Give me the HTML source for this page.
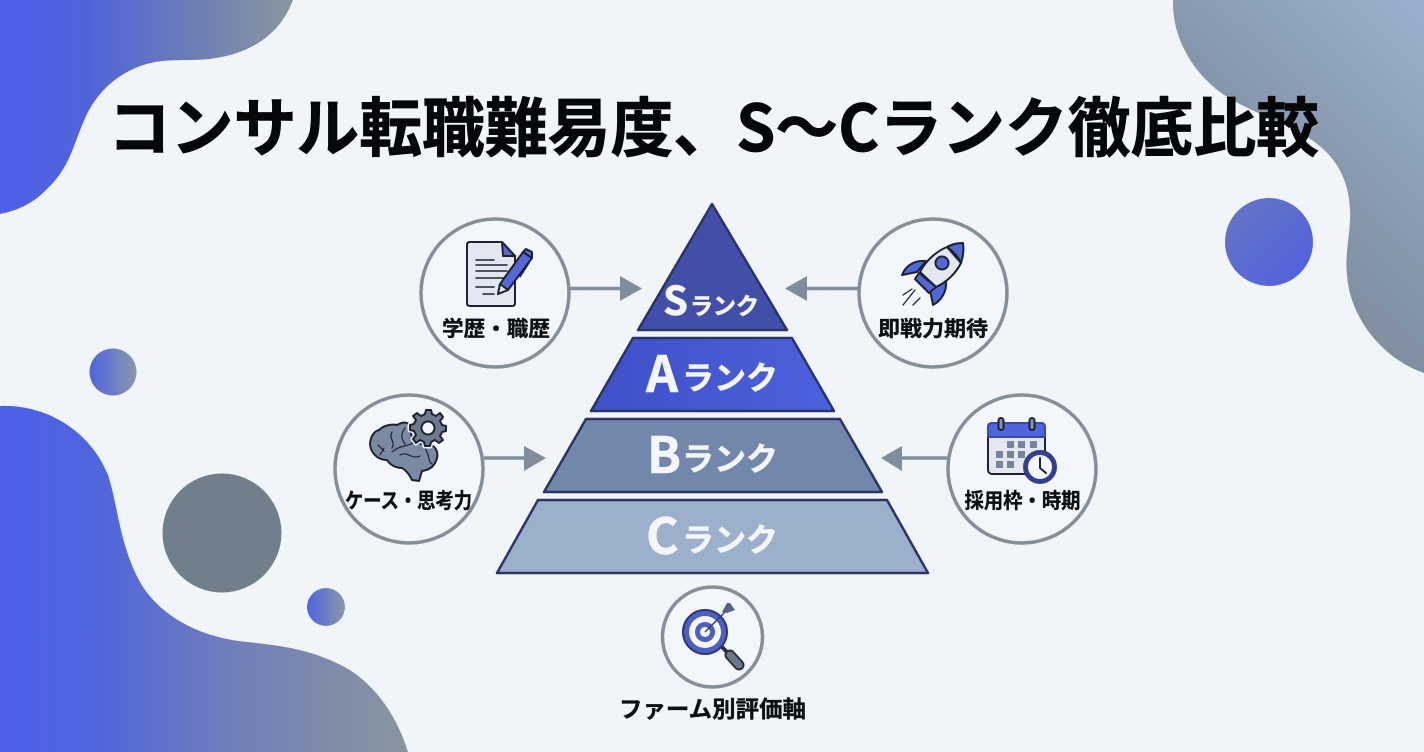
<!DOCTYPE html>
<html lang="ja"><head><meta charset="utf-8"><style>
html,body{margin:0;padding:0;width:1424px;height:752px;overflow:hidden;background:#f1f5f9}
svg{display:block}
text{font-family:"Noto Sans CJK JP","Liberation Sans",sans-serif;font-weight:700}
.lb{font-size:21px;fill:#0d0f14;stroke:#0d0f14;stroke-width:.35;text-anchor:middle}
.ic{stroke:#1c2233;stroke-width:2;stroke-linejoin:round;stroke-linecap:round}
</style></head><body>
<svg width="1424" height="752" viewBox="0 0 1424 752" xmlns="http://www.w3.org/2000/svg">
<defs>
<linearGradient id="g1" x1="0" y1="0" x2="1" y2="0"><stop offset="0" stop-color="#4e60ea"/><stop offset=".3" stop-color="#5064d8"/><stop offset=".7" stop-color="#7080b4"/><stop offset="1" stop-color="#8a979f"/></linearGradient>
<linearGradient id="g2" x1="1" y1="0" x2="0.35" y2="1"><stop offset="0" stop-color="#9ab1cf"/><stop offset=".5" stop-color="#8798ae"/><stop offset="1" stop-color="#768590"/></linearGradient>
<linearGradient id="g3" x1="0" y1="0" x2="1" y2="0"><stop offset="0" stop-color="#4e60ea"/><stop offset=".25" stop-color="#5066da"/><stop offset=".55" stop-color="#6f7dbc"/><stop offset="1" stop-color="#8a969c"/></linearGradient>
<linearGradient id="g4" x1="0" y1="0" x2="1" y2="1"><stop offset="0" stop-color="#6676c2"/><stop offset="1" stop-color="#4f60e0"/></linearGradient>
<linearGradient id="g5" x1="0" y1="0" x2="1" y2="0"><stop offset="0" stop-color="#4f64e2"/><stop offset="1" stop-color="#8b97a8"/></linearGradient>
<linearGradient id="ga" x1="0" y1="0" x2="1" y2="0"><stop offset="0" stop-color="#3f50c8"/><stop offset="1" stop-color="#4c61dc"/></linearGradient>
</defs>
<rect width="1424" height="752" fill="#f1f5f9"/>
<!-- blobs -->
<path d="M0 0H293C280 35 250 54 210 59C190 61 172 59 155 62C125 68 102 86 88 112C74 140 72 165 48 188C32 205 15 211 0 214Z" fill="url(#g1)"/>
<path d="M1173 0C1172 40 1195 78 1232 100C1265 118 1300 128 1322 148C1345 168 1351 195 1350 220C1349 240 1345 255 1347 275C1350 320 1385 360 1424 373V0Z" fill="url(#g2)"/>
<path d="M0 406C45 404 90 430 108 475C118 505 120 550 143 587C165 620 205 638 247 642C285 646 315 650 350 670C380 690 398 720 408 752H0Z" fill="url(#g3)"/>
<circle cx="1269" cy="242" r="44" fill="url(#g4)"/>
<circle cx="113" cy="372" r="23.500" fill="url(#g5)"/>
<circle cx="222" cy="533" r="59.500" fill="#6f7f8b"/>
<circle cx="326" cy="607" r="19" fill="url(#g5)"/>
<!-- title -->
<text x="108" y="151" font-size="64" textLength="1211" lengthAdjust="spacingAndGlyphs" fill="#060709" stroke="#060709" stroke-width=".8">コンサル転職難易度、S〜Cランク徹底比較</text>
<!-- pyramid -->
<g stroke="#2a3468" stroke-width="2.500" stroke-linejoin="round">
<path d="M712 204L787 330H638Z" fill="#434ea8"/>
<path d="M633 338H792L834 411H591Z" fill="url(#ga)"/>
<path d="M586 419H840L882 492H544Z" fill="#7387ab"/>
<path d="M538 500H887L928 573H497Z" fill="#9db0cb"/>
</g>
<g fill="#f4f6fb" stroke="#f4f6fb" stroke-width=".6">
<text x="663" y="315" font-size="40">S</text><text x="690" y="314" font-size="23">ランク</text>
<text x="646" y="392" font-size="50">A</text><text x="682" y="389" font-size="32" textLength="96" lengthAdjust="spacingAndGlyphs">ランク</text>
<text x="647" y="473" font-size="50">B</text><text x="682" y="470" font-size="32" textLength="96" lengthAdjust="spacingAndGlyphs">ランク</text>
<text x="646" y="554" font-size="50">C</text><text x="682" y="551" font-size="32" textLength="96" lengthAdjust="spacingAndGlyphs">ランク</text>
</g>
<!-- connector arrows -->
<g stroke="#7f8d9d" stroke-width="3.500" fill="none">
<path d="M570 288.500H625"/><path d="M859 288.500H800"/><path d="M484 458H530"/><path d="M948 458H896"/>
</g>
<g fill="#7f8d9d">
<path d="M620 276L642 288.500L620 301Z"/><path d="M807 276L785 288.500L807 301Z"/>
<path d="M524 446L546 458L524 471Z"/><path d="M902 446L881 458L902 471Z"/>
</g>
<!-- circles -->
<g fill="#f3f6fa" stroke="#858f9c" stroke-width="3.500">
<circle cx="495" cy="293" r="74"/><circle cx="933" cy="293" r="74"/>
<circle cx="409" cy="469" r="74"/><circle cx="1022" cy="469" r="74"/>
<circle cx="712.500" cy="637" r="50"/>
</g>
<!-- doc icon -->
<g class="ic">
<path d="M470 242H502L515 256V303Q515 306 512 306H470Q467 306 467 303V245Q467 242 470 242Z" fill="#e3e8f0"/>
<path d="M502 242L515 256H503Z" fill="#5a68c8"/>
<path d="M476 260H494M476 265H507M476 271H507M476 278H503M476 287H494M483 294H494" fill="none" stroke-width="1.500"/>
<path d="M498 294L500 284L523 252L532 258L508 290Z" fill="#5668d8"/>
<path d="M498 294L500 284L508 290Z" fill="#e3e8f0"/>
<path d="M523 252L526 249L532 252L532 258Z" fill="#5a68c8"/>
<path d="M520 277L529 263" fill="none" stroke-width="1.300"/>
</g>
<!-- rocket -->
<g class="ic">
<path d="M926 261C915 260 906 265 902 275L917 272Z" fill="#5268d8"/>
<path d="M946 281C947 291 942 300 933 305L930 290Z" fill="#5268d8"/>
<path d="M947 247C935 252 925 262 920 272L936 287C947 282 956 273 961 263Z" fill="#e3e7ee"/>
<path d="M919 273L915 279L929 293L936 287Z" fill="#5268d8"/>
<path d="M947 247C952 244 958 243 963 243C964 250 963 257 961 263C958 256 952 250 947 247Z" fill="#5268d8"/>
<circle cx="942" cy="263" r="6.500" fill="#5268d8"/>
<path d="M912 289L903 295M915 290L903 305M920 298L913 305" fill="none" stroke-width="1.300"/>
</g>
<!-- brain -->
<g class="ic" stroke-width="1.800">
<path d="M370 443C371 435 375 431 379 430C384 425 392 424 397 425C402 422 406 422 409 424L413 442L433 446C437 449 438 453 437 458C435 466 430 470 422 471L419 481L412 480C409 474 406 470 402 468C396 468 390 465 387 460C378 460 370 453 370 443Z" fill="#7a8aa3"/>
<path d="M378 445L384 451M384 448L380 455M392 432C388 438 396 442 392 448M405 428C400 434 402 440 405 444M392 452C398 446 408 446 413 443M400 455C408 451 412 460 420 456M425 448C430 456 428 462 432 464" fill="none" stroke-width="1.200"/>
<g transform="translate(-2,-2)">
<path d="M428 412L433 412L434 416L438 418L442 415L445 419L442 423L444 427L448 428L448 433L444 434L442 438L445 442L441 445L437 442L433 444L432 448L427 448L426 444L422 442L418 445L415 441L418 437L416 433L412 432L412 427L416 426L418 422L415 418L419 415L423 418L427 416Z" fill="#f3f6fa" stroke="#f3f6fa" stroke-width="5"/>
<path d="M428 412L433 412L434 416L438 418L442 415L445 419L442 423L444 427L448 428L448 433L444 434L442 438L445 442L441 445L437 442L433 444L432 448L427 448L426 444L422 442L418 445L415 441L418 437L416 433L412 432L412 427L416 426L418 422L415 418L419 415L423 418L427 416Z" fill="#6f7a8e"/>
<circle cx="430" cy="430" r="6.500" fill="#f3f6fa"/>
</g>
</g>
<!-- calendar -->
<g class="ic">
<rect x="988" y="423" width="57" height="51" rx="4" fill="#e3e8f0"/>
<path d="M988 437V427Q988 423 992 423H1041Q1045 423 1045 427V437Z" fill="#4f63dc" stroke="#3a48a8"/>
<rect x="998.500" y="418" width="5" height="12" rx="2.500" fill="#8295a8"/>
<rect x="1029.500" y="418" width="5" height="12" rx="2.500" fill="#8295a8"/>
</g>
<g fill="#76859c">
<rect x="1007" y="441" width="7" height="7"/><rect x="1018" y="441" width="7" height="7"/><rect x="1030" y="441" width="7" height="7"/>
<rect x="996" y="451" width="7" height="7"/><rect x="1007" y="451" width="7" height="7"/><rect x="1018" y="451" width="7" height="7"/>
<rect x="996" y="461" width="7" height="7"/><rect x="1007" y="461" width="7" height="7"/>
</g>
<g class="ic">
<circle cx="1040" cy="467" r="14.500" fill="#f3f6fa" stroke="#343f8e" stroke-width="5"/>
<path d="M1040 458V468L1046 473" fill="none"/>
</g>
<!-- target -->
<path d="M722 647L730 655" stroke="#2a3040" stroke-width="4"/>
<path d="M730 655L739 665" stroke="#2a3040" stroke-width="11" stroke-linecap="round"/>
<path d="M730 655L739 665" stroke="#6d7889" stroke-width="7" stroke-linecap="round"/>
<circle cx="705" cy="632" r="22" fill="#4f5fc0" stroke="#2b3678" stroke-width="2"/>
<circle cx="705" cy="632" r="16" fill="#f3f6fa"/>
<circle cx="705" cy="632" r="10" fill="#4f5fc0"/>
<circle cx="705" cy="632" r="5" fill="#f3f6fa"/>
<path d="M705 632L727 610" stroke="#39405f" stroke-width="1.500"/>
<path d="M722 612L727 603L730 603L735 610L727 613Z" fill="#58647a"/>
<!-- labels -->
<text class="lb" x="496" y="336" textLength="108" lengthAdjust="spacingAndGlyphs">学歴・職歴</text>
<text class="lb" x="933" y="336" textLength="110" lengthAdjust="spacingAndGlyphs">即戦力期待</text>
<text class="lb" x="408.500" y="508" textLength="127" lengthAdjust="spacingAndGlyphs">ケース・思考力</text>
<text class="lb" x="1022.500" y="508" textLength="116" lengthAdjust="spacingAndGlyphs">採用枠・時期</text>
<text class="lb" x="712.500" y="717" style="font-size:23px" textLength="187" lengthAdjust="spacingAndGlyphs">ファーム別評価軸</text>
</svg>
</body></html>
